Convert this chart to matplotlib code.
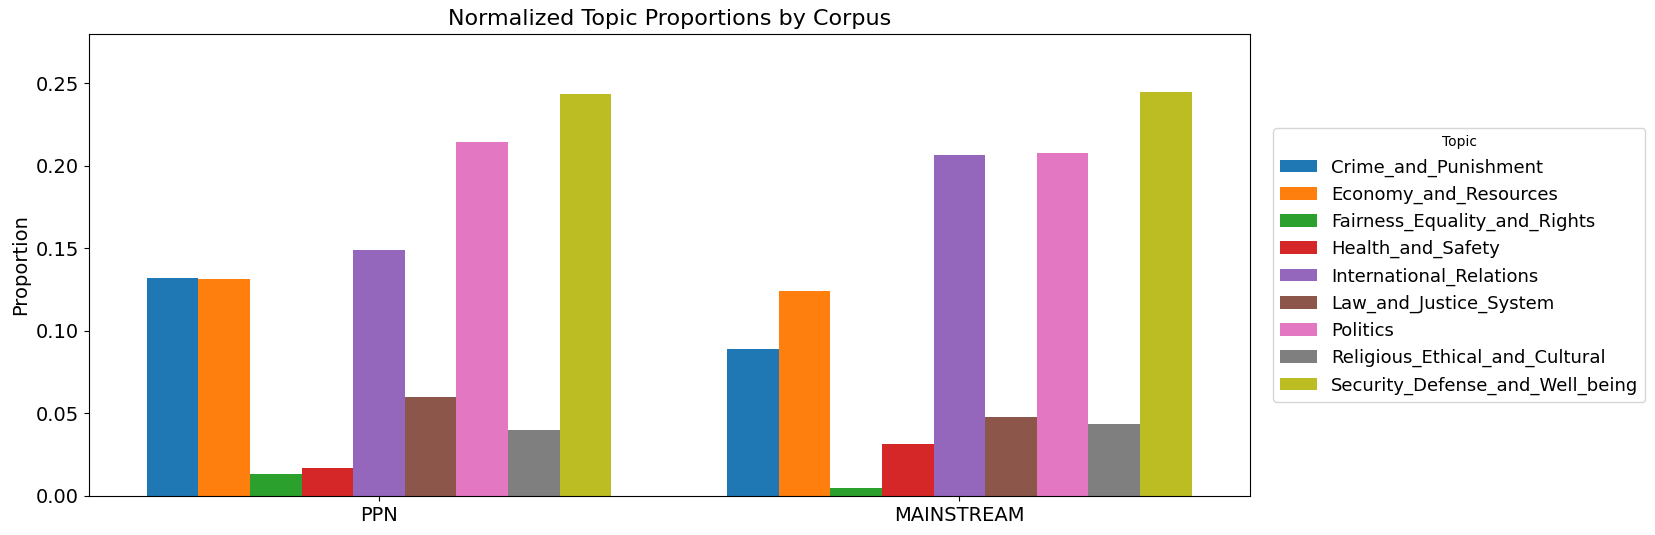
import numpy as np
import matplotlib
matplotlib.use('Agg')
import matplotlib.pyplot as plt

corpora = ['PPN', 'MAINSTREAM']
topics = ['Crime_and_Punishment', 'Economy_and_Resources', 'Fairness_Equality_and_Rights',
          'Health_and_Safety', 'International_Relations', 'Law_and_Justice_System',
          'Politics', 'Religious_Ethical_and_Cultural', 'Security_Defense_and_Well_being']
ppn = [0.1322, 0.1312, 0.0134, 0.0170, 0.1488, 0.0601, 0.2144, 0.0401, 0.2433]
mainstream = [0.0893, 0.1239, 0.0049, 0.0316, 0.2065, 0.0480, 0.2077, 0.0437, 0.2447]

colors = plt.rcParams['axes.prop_cycle'].by_key()['color']

fig = plt.figure(figsize=(16.55, 5.35), dpi=100)
ax = fig.add_axes([0.0536, 0.0729, 0.7015, 0.8639])

x = np.arange(len(corpora))
w = 0.8 / len(topics)
for i, t in enumerate(topics):
    vals = [ppn[i], mainstream[i]]
    ax.bar(x - 0.4 + w * (i + 0.5), vals, width=w, color=colors[i % len(colors)], label=t)

ax.set_xlim(-0.5, 1.5)
ax.set_ylim(0, 0.28)
ax.set_xticks(x)
ax.set_xticklabels(corpora, fontsize=14)
ax.tick_params(axis='y', labelsize=14)
ax.set_ylabel('Proportion', fontsize=14)
ax.set_title('Normalized Topic Proportions by Corpus', fontsize=16)
ax.legend(title='Topic', fontsize=13, title_fontsize=10, loc='center left',
          bbox_to_anchor=(1.0125, 0.5))

fig.savefig('out.png', dpi=100)
